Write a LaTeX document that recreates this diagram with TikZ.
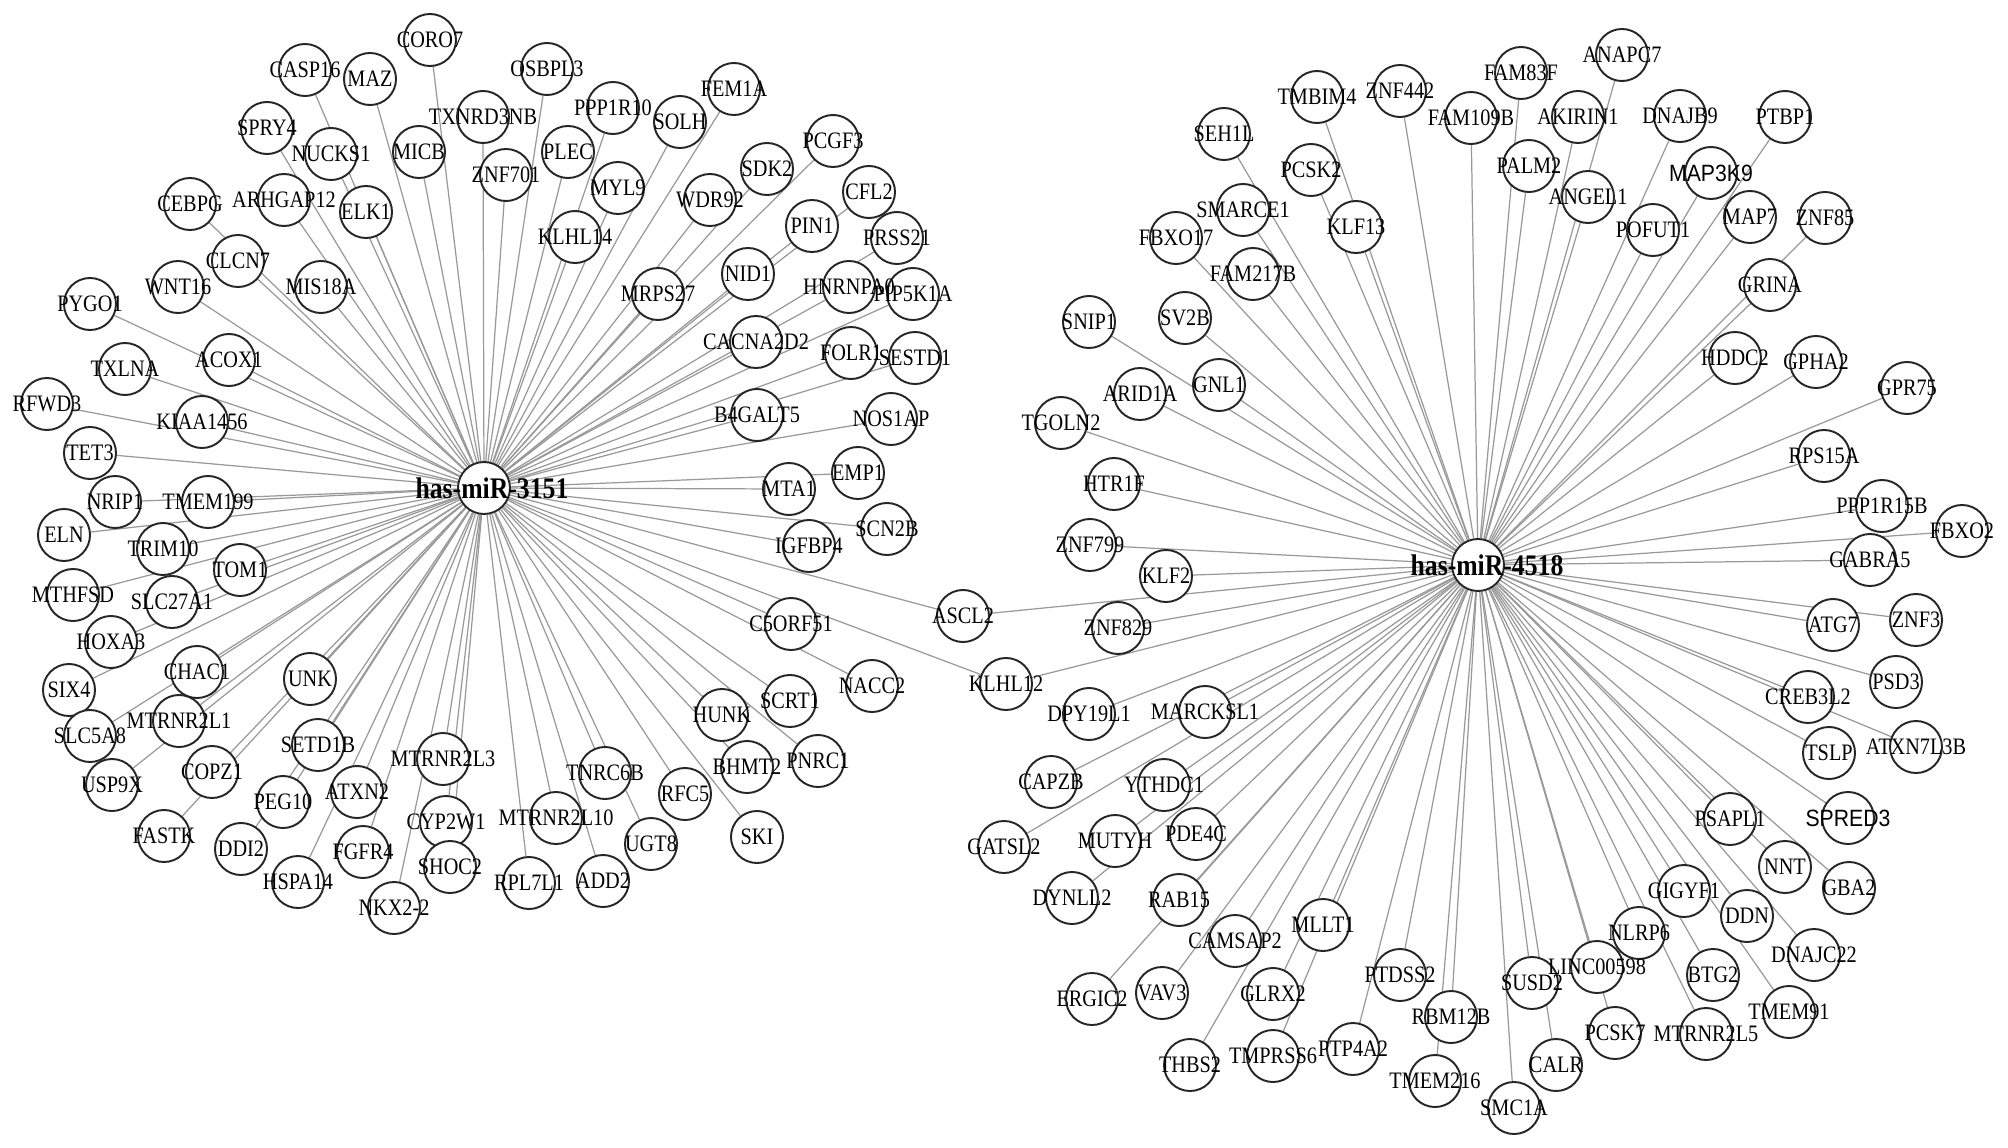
\documentclass[tikz,border=0pt]{standalone}
\usepackage{fontspec}
\setmainfont{Liberation Serif}[FakeStretch=0.86]
\newfontfamily\genesans{Liberation Sans}[FakeStretch=0.9]
\pgfdeclarelayer{bg}
\pgfdeclarelayer{fg}
\pgfsetlayers{bg,main,fg}

\begin{document}
\begin{tikzpicture}[x=0.01cm, y=-0.01cm,
    gene/.style={circle, draw=black!85, line width=0.55pt, fill=white, minimum size=0.52cm, inner sep=0pt},
    genetext/.style={inner sep=0pt, font=\fontsize{6.7}{7}\selectfont},
    hubtext/.style={inner sep=0pt, font=\fontsize{8.5}{9}\selectfont\bfseries},
    edge/.style={black!40, line width=0.35pt}]
    \useasboundingbox (0,0) rectangle (2008,1148);
    % Merkez dugumler
    \node[gene] (miR3151) at (484,488) {};
    \node[gene] (miR4518) at (1478,565) {};
    \begin{pgfonlayer}{fg}
        \node[hubtext] (miR3151-t) at (492,488) {has-miR-3151};
        \node[hubtext] (miR4518-t) at (1487,565) {has-miR-4518};
    \end{pgfonlayer}
    % Sol grup
    \foreach \g/\x/\y in {CORO7/430/40, CASP16/305/70, MAZ/370/79, OSBPL3/547/69,
        SPRY4/267/128, NUCKS1/331/154, MICB/419/152, TXNRD3NB/483/117, ZNF701/506/175,
        PPP1R10/613/108, SOLH/680/122, FEM1A/734/89, PLEC/568/152, MYL9/618/188,
        KLHL14/575/237, WDR92/710/200, SDK2/767/169, PCGF3/833/141, CFL2/869/192,
        PIN1/812/226, PRSS21/897/238, MRPS27/658/294, NID1/748/274, HNRNPA0/849/287,
        PIP5K1A/913/294, CACNA2D2/756/342, FOLR1/851/353, SESTD1/915/358,
        CEBPG/190/204, ARHGAP12/284/200, ELK1/366/212, CLCN7/238/261, WNT16/178/287,
        MIS18A/321/287, PYGO1/90/304, ACOX1/229/360, TXLNA/125/369, RFWD3/47/404,
        KIAA1456/202/422, TET3/90/453, NRIP1/115/502, TMEM199/208/502, ELN/64/535,
        TRIM10/163/549, TOM1/240/570, MTHFSD/73/595, SLC27A1/172/602, HOXA3/111/642,
        CHAC1/197/672, UNK/310/679, SIX4/69/690, MTRNR2L1/179/721, SLC5A8/90/736,
        SETD1B/318/745, MTRNR2L3/443/759, USP9X/112/785, COPZ1/212/772, PEG10/283/802,
        ATXN2/357/792, CYP2W1/446/822, SHOC2/450/867, FASTK/164/836, DDI2/241/849,
        FGFR4/363/852, HSPA14/298/882, NKX2-2/394/908, MTRNR2L10/556/818,
        RPL7L1/529/883, ADD2/603/881, TNRC6B/605/773, UGT8/651/844, RFC5/685/794,
        SKI/757/837, BHMT2/747/767, HUNK/722/715, SCRT1/790/701, PNRC1/818/761,
        NACC2/872/686, C5ORF51/791/624, IGFBP4/809/546, SCN2B/887/529, MTA1/789/489,
        EMP1/858/473, B4GALT5/757/415, NOS1AP/891/419} {
        \node[gene] (\g) at (\x,\y) {};
        \begin{pgfonlayer}{fg}\node[genetext] (\g-t) at (\g) {\g};\end{pgfonlayer}
        \begin{pgfonlayer}{bg}\draw[edge] (miR3151) -- (\g);\end{pgfonlayer}
    }
    % Ortak hedefler
    \foreach \g/\x/\y in {ASCL2/963/616, KLHL12/1006/684} {
        \node[gene] (\g) at (\x,\y) {};
        \begin{pgfonlayer}{fg}\node[genetext] (\g-t) at (\g) {\g};\end{pgfonlayer}
        \begin{pgfonlayer}{bg}\draw[edge] (miR3151) -- (\g) -- (miR4518);\end{pgfonlayer}
    }
    % Sag grup
    \foreach \g/\x/\y in {SEH1L/1224/134, TMBIM4/1317/97, ZNF442/1400/91,
        FAM109B/1471/118, FAM83F/1521/73, ANAPC7/1622/55, AKIRIN1/1578/117,
        DNAJB9/1680/116, PTBP1/1785/117, PCSK2/1311/170, PALM2/1529/166,
        SMARCE1/1243/210, KLF13/1356/227, ANGEL1/1588/197, POFUT1/1653/230,
        MAP7/1750/217, ZNF85/1825/218, FBXO17/1176/238, FAM217B/1253/274,
        SNIP1/1089/322, SV2B/1185/318, GRINA/1770/285, ARID1A/1140/394, GNL1/1219/385,
        HDDC2/1735/358, GPHA2/1816/362, GPR75/1907/388, TGOLN2/1061/423,
        HTR1F/1114/484, RPS15A/1824/456, PPP1R15B/1882/506, FBXO2/1962/531,
        ZNF799/1090/545, KLF2/1166/576, GABRA5/1870/560, ATG7/1833/625, ZNF3/1916/620,
        ZNF829/1118/628, PSD3/1896/682, CREB3L2/1808/697, DPY19L1/1089/714,
        MARCKSL1/1205/712, TSLP/1829/753, ATXN7L3B/1916/747, CAPZB/1051/782,
        YTHDC1/1164/785, PSAPL1/1730/819, GATSL2/1004/847, MUTYH/1115/841,
        PDE4C/1196/834, NNT/1785/867, GBA2/1849/888, GIGYF1/1684/891, DDN/1747/916,
        DYNLL2/1072/898, RAB15/1179/900, NLRP6/1639/933, DNAJC22/1814/955,
        CAMSAP2/1235/941, MLLT1/1323/925, LINC00598/1597/967, SUSD2/1532/983,
        BTG2/1713/975, TMEM91/1789/1012, ERGIC2/1092/999, VAV3/1162/993,
        GLRX2/1273/994, PTDSS2/1400/975, RBM12B/1451/1017, MTRNR2L5/1706/1034,
        PCSK7/1615/1033, THBS2/1190/1065, TMPRSS6/1273/1056, PTP4A2/1353/1049,
        TMEM216/1435/1081, CALR/1556/1065, SMC1A/1514/1108} {
        \node[gene] (\g) at (\x,\y) {};
        \begin{pgfonlayer}{fg}\node[genetext] (\g-t) at (\g) {\g};\end{pgfonlayer}
        \begin{pgfonlayer}{bg}\draw[edge] (miR4518) -- (\g);\end{pgfonlayer}
    }
    % Sans etiketler
    \foreach \g/\x/\y in {MAP3K9/1711/173, SPRED3/1848/818} {
        \node[gene] (\g) at (\x,\y) {};
        \begin{pgfonlayer}{fg}\node[genetext, font=\fontsize{6.7}{7}\genesans] (\g-t) at (\g) {\g};\end{pgfonlayer}
        \begin{pgfonlayer}{bg}\draw[edge] (miR4518) -- (\g);\end{pgfonlayer}
    }
\end{tikzpicture}
\end{document}
